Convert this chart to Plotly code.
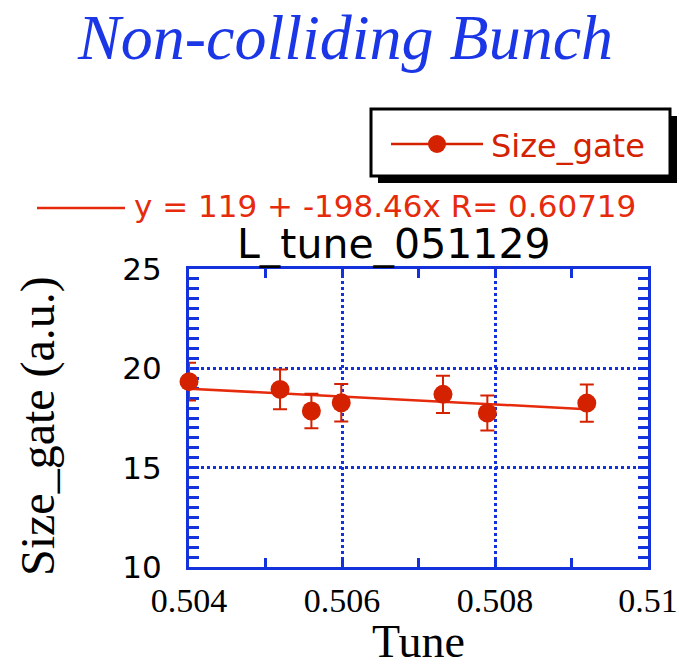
import plotly.graph_objects as go

# ---- data ----
tune = [0.5040, 0.50519, 0.50560, 0.50599, 0.50732, 0.50790, 0.50920]
size_gate = [19.33, 18.94, 17.85, 18.27, 18.69, 17.75, 18.25]
size_err = [0.95, 1.00, 0.87, 0.94, 0.94, 0.88, 0.94]
fit_intercept = 119.0
fit_slope = -198.46
fit_R = 0.60719
fit_x = [0.5040, 0.5092]
x_ticks = [0.504, 0.506, 0.508, 0.51]
x_ticklabels = ["0.504", "0.506", "0.508", "0.51"]
y_ticks = [10, 15, 20, 25]

# ---- layout geometry (pixels) ----
W, H = 679, 666
L, R, T, B = 189, 648, 269, 567


def px(x):
    return (x - L) / (R - L)


def py(y):
    return (B - y) / (B - T)


BLUE = "#1432dc"
RED = "#d42200"
FITRED = "#e62a0c"
SANS = "DejaVu Sans"

fit_y = [fit_intercept + fit_slope * x for x in fit_x]

fig = go.Figure()

# fit line
fig.add_trace(go.Scatter(
    x=fit_x, y=fit_y, mode="lines",
    line=dict(color=FITRED, width=2.5),
    showlegend=False, hoverinfo="skip", cliponaxis=True,
))

# error bars (clipped)
fig.add_trace(go.Scatter(
    x=tune, y=size_gate, mode="markers",
    marker=dict(size=1, color="rgba(0,0,0,0)"),
    error_y=dict(type="data", array=size_err, visible=True,
                 color=RED, thickness=2, width=7),
    showlegend=False, hoverinfo="skip", cliponaxis=True,
))

# markers (unclipped)
fig.add_trace(go.Scatter(
    x=tune, y=size_gate, mode="markers", name="Size_gate",
    marker=dict(size=19, color=RED, line=dict(width=0)),
    showlegend=False, cliponaxis=False,
))

axis_common = dict(
    showline=True, linecolor=BLUE, linewidth=3, mirror="allticks",
    ticks="inside", tickcolor=BLUE, tickwidth=3,
    showgrid=True, gridcolor=BLUE, gridwidth=2.5, griddash="dot",
    zeroline=False, layer="below traces", automargin=False,
)

fig.update_xaxes(
    range=[0.504, 0.51], tickvals=x_ticks, ticktext=x_ticklabels,
    ticklen=9,
    minor=dict(dtick=0.001, tick0=0.504, ticks="inside", ticklen=9,
               tickcolor=BLUE, tickwidth=3, showgrid=False),
    tickfont=dict(family="Liberation Serif", size=34, color="black"),
    ticklabelstandoff=1,
    **axis_common,
)
fig.update_yaxes(
    range=[10, 25], tickvals=y_ticks, ticklen=10,
    minor=dict(dtick=0.5, tick0=10, ticks="inside", ticklen=10,
               tickcolor=BLUE, tickwidth=3, showgrid=False),
    tickfont=dict(family=SANS, size=31, color="black"),
    ticklabelstandoff=18,
    **axis_common,
)

shapes = []
# legend shadow and box
shapes.append(dict(type="rect", xref="paper", yref="paper",
                   x0=px(378), x1=px(677), y0=py(183), y1=py(116),
                   fillcolor="black", line=dict(width=0), layer="above"))
shapes.append(dict(type="rect", xref="paper", yref="paper",
                   x0=px(371), x1=px(670), y0=py(176), y1=py(109),
                   fillcolor="white", line=dict(color="black", width=3),
                   layer="above"))
# legend symbol line
shapes.append(dict(type="line", xref="paper", yref="paper",
                   x0=px(391), x1=px(483), y0=py(144), y1=py(144),
                   line=dict(color=RED, width=2.5), layer="above"))
# legend symbol marker
shapes.append(dict(type="circle", xref="paper", yref="paper",
                   x0=px(428), x1=px(446), y0=py(153), y1=py(135),
                   fillcolor=RED, line=dict(width=0), layer="above"))
# fit label line
shapes.append(dict(type="line", xref="paper", yref="paper",
                   x0=px(37), x1=px(125), y0=py(208), y1=py(208),
                   line=dict(color=FITRED, width=2.5), layer="above"))

annotations = [
    dict(text="<i>Non-colliding Bunch</i>", x=px(345), y=py(37),
         xref="paper", yref="paper", xanchor="center", yanchor="middle",
         showarrow=False,
         font=dict(family="Liberation Serif", size=64, color="#1a36e6")),
    dict(text="Size_gate", x=px(489), y=py(146),
         xref="paper", yref="paper", xanchor="left", yanchor="middle",
         showarrow=False,
         font=dict(family=SANS, size=32, color=RED)),
    dict(text=f"y = {fit_intercept:g} + {fit_slope:g}x R= {fit_R:g}",
         x=px(132), y=py(206),
         xref="paper", yref="paper", xanchor="left", yanchor="middle",
         showarrow=False,
         font=dict(family=SANS, size=31, color=FITRED)),
    dict(text="L_tune_051129", x=px(394), y=py(244),
         xref="paper", yref="paper", xanchor="center", yanchor="middle",
         showarrow=False,
         font=dict(family=SANS, size=41, color="black")),
    dict(text="Tune", x=px(418), y=py(641),
         xref="paper", yref="paper", xanchor="center", yanchor="middle",
         showarrow=False,
         font=dict(family="Liberation Serif", size=46, color="black")),
    dict(text="Size_gate (a.u.)", x=px(38), y=py(426),
         xref="paper", yref="paper", xanchor="center", yanchor="middle",
         showarrow=False, textangle=-90,
         font=dict(family="Liberation Serif", size=48, color="black")),
]

fig.update_layout(
    width=W, height=H,
    margin=dict(l=L, r=W - R, t=T, b=H - B, pad=0),
    paper_bgcolor="white", plot_bgcolor="white",
    shapes=shapes, annotations=annotations,
    showlegend=False,
)

fig.write_html("out.html")
